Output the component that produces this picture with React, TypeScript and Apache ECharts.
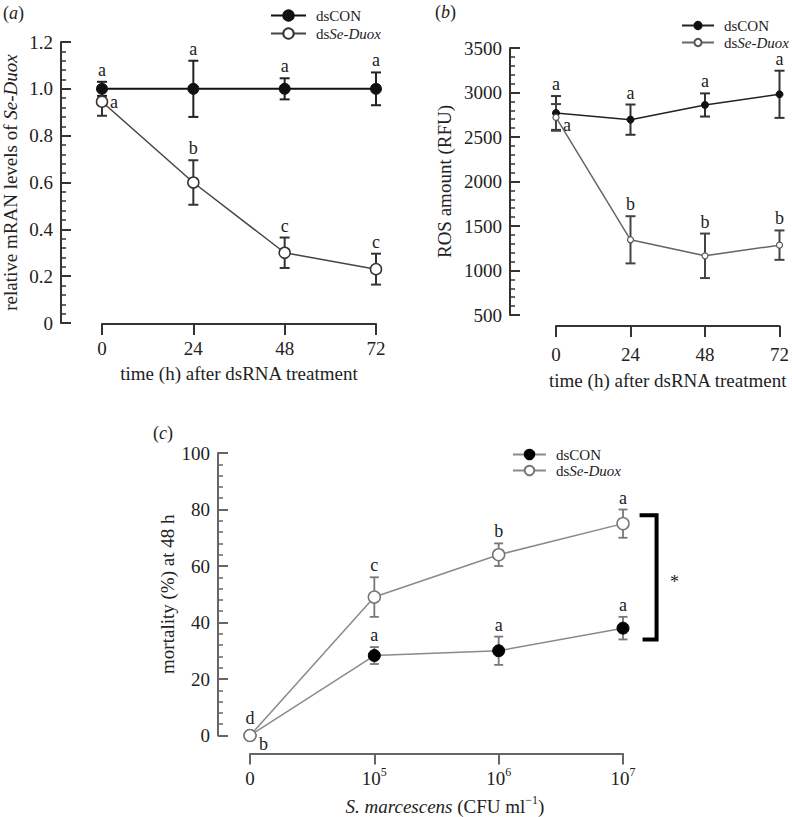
import React, { useEffect, useRef } from 'react';
import * as echarts from 'echarts';

// ---------- data ----------
const timeHours = [0, 24, 48, 72];

const conA = [1.0, 1.0, 1.0, 1.0];
const conAErr = [0.03, 0.12, 0.045, 0.07];
const conALetters = ['a', 'a', 'a', 'a'];
const seA = [0.945, 0.6, 0.3, 0.23];
const seAErr = [0.06, 0.095, 0.065, 0.066];
const seALetters = ['a', 'b', 'c', 'c'];

const conB = [2770, 2695, 2860, 2980];
const conBErr = [190, 170, 130, 265];
const conBLetters = ['a', 'a', 'a', 'a'];
const seB = [2720, 1345, 1165, 1285];
const seBErr = [150, 265, 250, 165];
const seBLetters = ['a', 'b', 'b', 'b'];

const doseIndex = [0, 1, 2, 3];
const doseExponents = ['', '5', '6', '7'];
const conC = [0, 28.3, 30, 38];
const conCErr = [0, 3, 5, 4];
const conCLetters = ['b', 'a', 'a', 'a'];
const seC = [0, 49, 64, 75];
const seCErr = [0, 7, 4, 5];
const seCLetters = ['d', 'c', 'b', 'a'];

const bracketC = { x: 3.27, top: 78, bottom: 34 };

// ---------- styling ----------
const FONT = '"Liberation Serif", "Times New Roman", serif';
const TXT = '#222';
const FS = 19;

type Sty = {
  size: number; line: string; lineWidth: number; fill: string; border: string; borderWidth: number;
};

function lineSeries(name: string, grid: number, xs: number[], ys: number[], s: Sty) {
  return {
    type: 'line', name, xAxisIndex: grid, yAxisIndex: grid, z: 4,
    data: xs.map((x, i) => [x, ys[i]]),
    symbol: 'circle', symbolSize: s.size, showAllSymbol: true,
    lineStyle: { color: s.line, width: s.lineWidth },
    itemStyle: { color: s.fill, borderColor: s.border, borderWidth: s.borderWidth },
    emphasis: { disabled: true }, silent: true, clip: false,
  };
}

function errSeries(
  grid: number, xs: number[], ys: number[], errs: number[], letters: string[],
  color: string, width: number, cap: number, offsets: Record<number, [number, number]> = {},
) {
  return {
    type: 'custom', xAxisIndex: grid, yAxisIndex: grid, z: 2, silent: true, clip: false,
    data: xs.map((x, i) => [x, ys[i], errs[i], i]),
    renderItem: (_p: any, api: any) => {
      const x = api.value(0), y = api.value(1), e = api.value(2), i = api.value(3);
      const c = api.coord([x, y]);
      const t = api.coord([x, y + e]);
      const b = api.coord([x, y - e]);
      const children: any[] = [];
      const ls = { stroke: color, lineWidth: width };
      if (e > 0) {
        children.push({ type: 'line', shape: { x1: c[0], y1: t[1], x2: c[0], y2: b[1] }, style: ls });
        children.push({ type: 'line', shape: { x1: c[0] - cap / 2, y1: t[1], x2: c[0] + cap / 2, y2: t[1] }, style: ls });
        children.push({ type: 'line', shape: { x1: c[0] - cap / 2, y1: b[1], x2: c[0] + cap / 2, y2: b[1] }, style: ls });
      }
      const off = offsets[i];
      if (off) {
        children.push({
          type: 'text', x: c[0] + off[0], y: c[1] + off[1],
          style: { text: letters[i], fill: TXT, fontSize: 18, fontFamily: FONT, align: 'left', verticalAlign: 'middle' },
        });
      } else {
        children.push({
          type: 'text', x: c[0], y: t[1] - (e > 0 ? 3 : 9),
          style: { text: letters[i], fill: TXT, fontSize: 18, fontFamily: FONT, align: 'center', verticalAlign: 'bottom' },
        });
      }
      return { type: 'group', children };
    },
  };
}

const italicRich = (size: number) => ({ i: { fontStyle: 'italic', fontSize: size, fontFamily: FONT, color: TXT } });

function yAxisCfg(grid: number, min: number, max: number, interval: number, offset: number, name: string, nameGap: number, fmt: (v: number) => string, color: string) {
  return {
    type: 'value', gridIndex: grid, min, max, interval, offset, position: 'left',
    name, nameLocation: 'middle', nameGap, nameRotate: 90, nameMoveOverlap: false,
    nameTextStyle: { fontFamily: FONT, fontSize: FS, color: TXT, rich: italicRich(FS) },
    axisLine: { show: true, onZero: false, lineStyle: { color, width: 2 } },
    axisTick: { show: true, inside: true, length: 10, lineStyle: { color, width: 2 } },
    minorTick: { show: true, splitNumber: 5, length: 5, lineStyle: { color, width: 1.5 } },
    axisLabel: { show: true, margin: 8, fontFamily: FONT, fontSize: FS, color: TXT, formatter: fmt },
    splitLine: { show: false },
  };
}

function xAxisCfg(grid: number, min: number, max: number, interval: number, offset: number, name: string, nameGap: number, labelMargin: number, color: string, extra: any = {}) {
  return {
    type: 'value', gridIndex: grid, min, max, interval, offset, position: 'bottom',
    name, nameLocation: 'middle', nameGap, nameMoveOverlap: false,
    nameTextStyle: { fontFamily: FONT, fontSize: FS, color: TXT, rich: italicRich(FS), ...(extra.nameTextStyle || {}) },
    axisLine: { show: true, onZero: false, lineStyle: { color, width: 2 } },
    axisTick: { show: true, inside: false, length: 11, lineStyle: { color, width: 2 } },
    axisLabel: { show: true, margin: labelMargin, fontFamily: FONT, fontSize: FS, color: TXT, ...(extra.axisLabel || {}) },
    splitLine: { show: false },
  };
}

function legendCfg(names: string[], left: number, top: number, itemWidth: number, itemHeight: number, itemGap: number) {
  return {
    data: names, orient: 'vertical', left, top, itemWidth, itemHeight, itemGap, selectedMode: false,
    formatter: (n: string) => (n.endsWith('dsCON') ? 'dsCON' : 'ds{i|Se-Duox}'),
    textStyle: { fontFamily: FONT, fontSize: 15, color: TXT, padding: [0, 0, 0, 5], rich: italicRich(15) },
  };
}

function buildOption() {
  const styA_con: Sty = { size: 11, line: '#111', lineWidth: 2, fill: '#111', border: '#111', borderWidth: 1 };
  const styA_se: Sty = { size: 11, line: '#444', lineWidth: 1.5, fill: '#fff', border: '#333', borderWidth: 1.5 };
  const styB_con: Sty = { size: 7, line: '#222', lineWidth: 1.5, fill: '#111', border: '#111', borderWidth: 1 };
  const styB_se: Sty = { size: 6, line: '#666', lineWidth: 1.5, fill: '#fff', border: '#555', borderWidth: 1.2 };
  const styC_con: Sty = { size: 12, line: '#8a8a8a', lineWidth: 1.5, fill: '#000', border: '#000', borderWidth: 1 };
  const styC_se: Sty = { size: 12, line: '#8a8a8a', lineWidth: 1.5, fill: '#fff', border: '#777', borderWidth: 1.5 };

  return {
    animation: false,
    backgroundColor: '#fff',
    grid: [
      { left: 102, top: 42, width: 274, height: 281 },
      { left: 556, top: 48, width: 226, height: 267 },
      { left: 250, top: 453, width: 373, height: 283 },
    ],
    xAxis: [
      xAxisCfg(0, 0, 72, 24, 1, 'time (h) after dsRNA treatment', 40, 15, '#333'),
      xAxisCfg(1, 0, 72, 24, 11, 'time (h) after dsRNA treatment', 45, 19, '#333'),
      xAxisCfg(2, 0, 3, 1, 18, '{i|S. marcescens} (CFU ml{s|\u22121})', 40, 12, '#666', {
        nameTextStyle: {
          padding: [0, 0, 0, 17],
          rich: {
            i: { fontStyle: 'italic', fontSize: FS, fontFamily: FONT, color: TXT, lineHeight: 26 },
            s: { fontSize: 12, fontFamily: FONT, color: TXT, lineHeight: 12, verticalAlign: 'top' },
          },
        },
        axisLabel: {
          formatter: (v: number) => {
            const e = doseExponents[Math.round(v)];
            return e ? `{b|10}{s|${e}}` : '{b|0}';
          },
          rich: {
            b: { fontSize: FS, fontFamily: FONT, color: TXT, lineHeight: 26 },
            s: { fontSize: 12, fontFamily: FONT, color: TXT, lineHeight: 12, verticalAlign: 'top' },
          },
        },
      }),
    ],
    yAxis: [
      yAxisCfg(0, 0, 1.2, 0.2, 41, 'relative mRAN levels of {i|Se-Duox}', 41,
        (v: number) => (v === 0 ? '0' : v.toFixed(1)), '#333'),
      yAxisCfg(1, 500, 3500, 500, 46, 'ROS amount (RFU)', 56, (v: number) => String(v), '#333'),
      yAxisCfg(2, 0, 100, 20, 32, 'mortality (%) at 48 h', 41, (v: number) => String(v), '#666'),
    ],
    legend: [
      legendCfg(['a:dsCON', 'a:dsSe-Duox'], 265, 3, 35, 13, 3),
      legendCfg(['b:dsCON', 'b:dsSe-Duox'], 676, 13, 32, 9, 2),
      legendCfg(['c:dsCON', 'c:dsSe-Duox'], 507, 442, 33, 12, 1),
    ],
    graphic: [
      { type: 'text', x: 3, y: 13, style: { text: '({i|a})', fill: TXT, fontSize: 18, fontFamily: FONT, verticalAlign: 'middle', rich: italicRich(18) } },
      { type: 'text', x: 435, y: 12, style: { text: '({i|b})', fill: TXT, fontSize: 18, fontFamily: FONT, verticalAlign: 'middle', rich: italicRich(18) } },
      { type: 'text', x: 153, y: 433, style: { text: '({i|c})', fill: TXT, fontSize: 18, fontFamily: FONT, verticalAlign: 'middle', rich: italicRich(18) } },
    ],
    series: [
      errSeries(0, timeHours, conA, conAErr, conALetters, '#222', 2, 10),
      errSeries(0, timeHours, seA, seAErr, seALetters, '#333', 2, 10, { 0: [8, 0] }),
      lineSeries('a:dsCON', 0, timeHours, conA, styA_con),
      lineSeries('a:dsSe-Duox', 0, timeHours, seA, styA_se),

      errSeries(1, timeHours, conB, conBErr, conBLetters, '#333', 2, 10),
      errSeries(1, timeHours, seB, seBErr, seBLetters, '#444', 2, 10, { 0: [7, 8] }),
      lineSeries('b:dsCON', 1, timeHours, conB, styB_con),
      lineSeries('b:dsSe-Duox', 1, timeHours, seB, styB_se),

      errSeries(2, doseIndex, conC, conCErr, conCLetters, '#777', 1.8, 9, { 0: [9, 8] }),
      errSeries(2, doseIndex, seC, seCErr, seCLetters, '#777', 1.8, 9),
      lineSeries('c:dsCON', 2, doseIndex, conC, styC_con),
      lineSeries('c:dsSe-Duox', 2, doseIndex, seC, styC_se),

      {
        type: 'custom', xAxisIndex: 2, yAxisIndex: 2, silent: true, clip: false, z: 5,
        data: [[bracketC.x, bracketC.top, bracketC.bottom]],
        renderItem: (_p: any, api: any) => {
          const t = api.coord([api.value(0), api.value(1)]);
          const b = api.coord([api.value(0), api.value(2)]);
          return {
            type: 'group',
            children: [
              {
                type: 'polyline',
                shape: { points: [[t[0] - 17, t[1]], [t[0], t[1]], [t[0], b[1]], [t[0] - 14, b[1]]] },
                style: { stroke: '#000', lineWidth: 4, fill: null, lineJoin: 'miter' },
              },
              {
                type: 'text', x: t[0] + 18, y: (t[1] + b[1]) / 2 + 5,
                style: { text: '*', fill: TXT, fontSize: 18, fontFamily: FONT, align: 'center', verticalAlign: 'middle' },
              },
            ],
          };
        },
      },
    ],
  };
}

export default function App() {
  const ref = useRef<HTMLDivElement>(null);
  useEffect(() => {
    if (!ref.current) return;
    const chart = echarts.init(ref.current, null, { renderer: 'svg' });
    chart.setOption(buildOption() as any);
    return () => chart.dispose();
  }, []);
  return (
    <div
      ref={ref}
      style={{ position: 'fixed', left: 0, top: 0, width: 792, height: 817, background: '#fff' }}
    />
  );
}
